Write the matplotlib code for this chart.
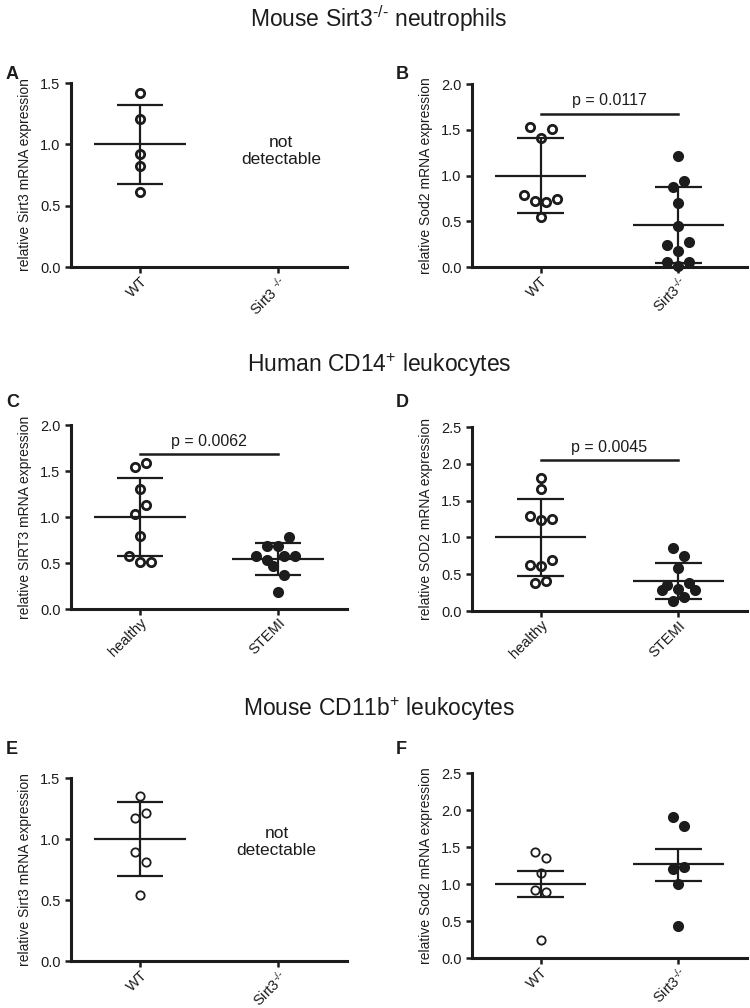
import numpy as np
import matplotlib.pyplot as plt
from matplotlib.transforms import ScaledTranslation

plt.rcParams['font.family'] = ['Liberation Sans', 'DejaVu Sans']
plt.rcParams['mathtext.fontset'] = 'custom'
plt.rcParams['mathtext.rm'] = 'Liberation Sans'
plt.rcParams['mathtext.it'] = 'Liberation Sans:italic'
plt.rcParams['mathtext.bf'] = 'Liberation Sans:bold'

ink = '#1c1c1c'
ko = r'Sirt3$^{\text{-/-}}$'

# values; *_slot = horizontal dot position in the scatter
# stats = [mean, lower bar, upper bar]

# A: mouse neutrophils, Sirt3
a_wt = [1.42, 1.21, 0.92, 0.82, 0.61]
a_wt_slot = [0, 0, 0, 0, 0]
a_wt_stats = [1.00, 0.68, 1.32]

# B: mouse neutrophils, Sod2
b_wt = [1.53, 1.51, 1.41, 0.79, 0.72, 0.715, 0.74, 0.55]
b_wt_slot = [-2, 2, 0, -3, -1, 1, 3, 0]
b_wt_stats = [1.00, 0.59, 1.41]
b_ko = [1.21, 0.94, 0.875, 0.70, 0.445, 0.27, 0.245, 0.17, 0.055, 0.055, 0.01]
b_ko_slot = [0, 1, -1, 0, 0, 2, -2, 0, -2, 2, 0]
b_ko_stats = [0.455, 0.04, 0.87]

# C: human CD14+, SIRT3
c_h = [1.59, 1.545, 1.30, 1.13, 1.03, 0.79, 0.58, 0.51, 0.51]
c_h_slot = [1, -1, 0, 1, -1, 0, -2, 0, 2]
c_h_stats = [1.00, 0.575, 1.425]
c_s = [0.785, 0.69, 0.68, 0.58, 0.58, 0.58, 0.53, 0.47, 0.365, 0.19]
c_s_slot = [2, -2, 0, -4, 1, 3, -2, -1, 1, 0]
c_s_stats = [0.545, 0.375, 0.715]

# D: human CD14+, SOD2
d_h = [1.81, 1.66, 1.29, 1.24, 1.25, 0.69, 0.63, 0.61, 0.41, 0.38]
d_h_slot = [0, 0, -2, 0, 2, 2, -2, 0, 1, -1]
d_h_stats = [1.00, 0.48, 1.52]
d_s = [0.86, 0.745, 0.58, 0.35, 0.38, 0.28, 0.30, 0.28, 0.13, 0.19]
d_s_slot = [-1, 1, 0, -2, 2, -3, 0, 3, -1, 1]
d_s_stats = [0.41, 0.17, 0.65]

# E: mouse CD11b+, Sirt3
e_wt = [1.35, 1.21, 1.175, 0.895, 0.81, 0.545]
e_wt_slot = [0, 1, -1, -1, 1, 0]
e_wt_stats = [1.00, 0.70, 1.30]

# F: mouse CD11b+, Sod2
f_wt = [1.43, 1.35, 1.15, 0.92, 0.89, 0.25]
f_wt_slot = [-1, 1, 0, -1, 1, 0]
f_wt_stats = [1.00, 0.83, 1.175]
f_ko = [1.905, 1.78, 1.20, 1.235, 1.00, 0.435]
f_ko_slot = [-1, 1, -1, 1, 0, 0]
f_ko_stats = [1.265, 1.045, 1.48]

slot_w = 0.04

fig = plt.figure(figsize=(7.5, 10.08), dpi=100)
shift = ScaledTranslation(7 / 72, 2.5 / 72, fig.dpi_scale_trans)

def panel(rect, ymax, ylabel, xlabels):
    ax = fig.add_axes(rect)
    ax.set_xlim(-0.5, 1.5)
    ax.set_ylim(0, ymax)
    ax.set_yticks(np.arange(0, ymax + 0.01, 0.5))
    ax.yaxis.set_major_formatter('{x:.1f}')
    ax.set_xticks([0, 1])
    ax.set_xticklabels(xlabels, rotation=45, ha='right', va='top', rotation_mode='anchor',
                       fontsize=9, color=ink)
    for lab in ax.get_xticklabels():
        lab.set_transform(lab.get_transform() + shift)
    ax.spines[['top', 'right']].set_visible(False)
    for s in ['left', 'bottom']:
        ax.spines[s].set_linewidth(2.2)
        ax.spines[s].set_color(ink)
    ax.tick_params(width=1.8, length=4, labelsize=10.5, color=ink, labelcolor=ink)
    ax.tick_params(axis='x', pad=1)
    ax.set_ylabel(ylabel, fontsize=10, labelpad=6, color=ink)
    return ax

def group(ax, x, vals, slots, stats, filled, mew=2.0):
    xs = x + np.array(slots) * slot_w
    ax.plot(xs, vals, 'o', ms=6, mfc=ink if filled else 'none', mec=ink, mew=mew,
            zorder=3, clip_on=False)
    m, lo, hi = stats
    ax.hlines(m, x - 0.33, x + 0.33, color=ink, lw=1.6)
    ax.hlines([lo, hi], x - 0.17, x + 0.17, color=ink, lw=1.6)
    ax.vlines(x, lo, hi, color=ink, lw=1.6)

def sig(ax, y, ytext, label):
    ax.plot([0, 1], [y, y], color=ink, lw=1.8, clip_on=False)
    ax.text(0.5, ytext, label, ha='center', va='baseline', fontsize=11.5, color=ink)

# A
ax = panel([0.0947, 0.7351, 0.368, 0.1825], 1.5, 'relative Sirt3 mRNA expression',
           ['WT', r'Sirt3 $^{\text{-/-}}$'])
group(ax, 0, a_wt, a_wt_slot, a_wt_stats, False)
ax.text(1.02, 0.945, 'not\ndetectable', ha='center', va='center', fontsize=12.5, color=ink, linespacing=1.15)

# B
ax = panel([0.6293, 0.7351, 0.3667, 0.1815], 2.0, 'relative Sod2 mRNA expression', ['WT', ko])
group(ax, 0, b_wt, b_wt_slot, b_wt_stats, False)
group(ax, 1, b_ko, b_ko_slot, b_ko_stats, True)
sig(ax, 1.675, 1.77, 'p = 0.0117')

# C
ax = panel([0.0947, 0.3958, 0.368, 0.1825], 2.0, 'relative SIRT3 mRNA expression', ['healthy', 'STEMI'])
group(ax, 0, c_h, c_h_slot, c_h_stats, False)
group(ax, 1, c_s, c_s_slot, c_s_stats, True)
sig(ax, 1.69, 1.775, 'p = 0.0062')

# D
ax = panel([0.6293, 0.3938, 0.3667, 0.1825], 2.5, 'relative SOD2 mRNA expression', ['healthy', 'STEMI'])
group(ax, 0, d_h, d_h_slot, d_h_stats, False)
group(ax, 1, d_s, d_s_slot, d_s_stats, True)
sig(ax, 2.05, 2.155, 'p = 0.0045')

# E
ax = panel([0.0947, 0.0466, 0.368, 0.1815], 1.5, 'relative Sirt3 mRNA expression', ['WT', ko])
group(ax, 0, e_wt, e_wt_slot, e_wt_stats, False, mew=1.3)
ax.text(0.99, 0.975, 'not\ndetectable', ha='center', va='center', fontsize=12.5, color=ink, linespacing=1.15)

# F
ax = panel([0.6293, 0.0496, 0.3667, 0.1835], 2.5, 'relative Sod2 mRNA expression', ['WT', ko])
group(ax, 0, f_wt, f_wt_slot, f_wt_stats, False, mew=1.3)
group(ax, 1, f_ko, f_ko_slot, f_ko_stats, True)

# section titles
fig.text(0.505, 0.9732, r'Mouse Sirt3$^{\text{-/-}}$ neutrophils', ha='center', va='baseline', fontsize=16.5, color=ink)
fig.text(0.505, 0.631, r'Human CD14$^{+}$ leukocytes', ha='center', va='baseline', fontsize=16.5, color=ink)
fig.text(0.505, 0.2897, r'Mouse CD11b$^{+}$ leukocytes', ha='center', va='baseline', fontsize=16.5, color=ink)

# panel letters
for lx, ly, l in [(0.008, 0.9216, 'A'), (0.528, 0.9216, 'B'),
                  (0.008, 0.5962, 'C'), (0.528, 0.5962, 'D'),
                  (0.008, 0.252, 'E'), (0.528, 0.252, 'F')]:
    fig.text(lx, ly, l, ha='left', va='baseline', fontsize=13, fontweight='bold', color=ink)

fig.savefig('out.png', dpi=100)
